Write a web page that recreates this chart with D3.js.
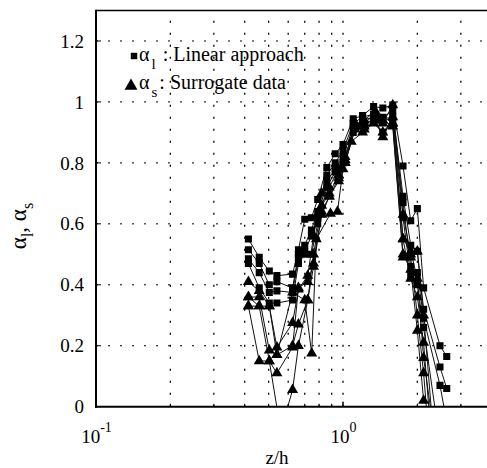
<!DOCTYPE html>
<html>
<head>
<meta charset="utf-8">
<script src="https://cdn.jsdelivr.net/npm/d3@7"></script>
<style>
  body { margin: 0; background: white; }
</style>
</head>
<body>
<svg id="svg" width="487" height="468"></svg>
<script>

// ************************************************************************************************** //
// Data (z/h, alpha)

var linear_1 = [[0.414,0.55],[0.458,0.49],[0.503,0.445],[0.54,0.43],[0.625,0.435],[0.66,0.515],[0.70,0.615],[0.745,0.62],[0.79,0.68],[0.86,0.785],[0.93,0.83],[1.0,0.86],[1.1,0.945],[1.2,0.955],[1.33,0.985],[1.45,0.98],[1.59,0.99],[1.75,0.79],[1.88,0.61],[2.0,0.65],[2.12,0.39],[2.47,0.20],[2.63,0.165]];
var linear_2 = [[0.414,0.515],[0.458,0.47],[0.503,0.40],[0.54,0.41],[0.625,0.39],[0.66,0.50],[0.70,0.53],[0.745,0.58],[0.79,0.64],[0.86,0.76],[0.93,0.80],[1.0,0.84],[1.1,0.93],[1.2,0.95],[1.33,0.96],[1.45,0.95],[1.59,0.97],[1.75,0.69],[1.88,0.53],[2.0,0.51],[2.12,0.32],[2.47,0.13],[2.63,0.06]];
var linear_3 = [[0.414,0.485],[0.458,0.44],[0.503,0.375],[0.54,0.38],[0.625,0.375],[0.66,0.49],[0.70,0.51],[0.745,0.56],[0.79,0.62],[0.86,0.74],[0.93,0.78],[1.0,0.82],[1.1,0.92],[1.2,0.94],[1.33,0.95],[1.45,0.945],[1.59,0.95],[1.75,0.67],[1.88,0.46],[2.0,0.44],[2.12,0.29],[2.47,0.07],[2.63,-0.05]];
var linear_4 = [[0.414,0.47],[0.458,0.39],[0.503,0.34],[0.54,0.34],[0.625,0.35],[0.66,0.47],[0.70,0.50],[0.745,0.50],[0.79,0.60],[0.86,0.72],[0.93,0.77],[1.0,0.80],[1.1,0.90],[1.2,0.93],[1.33,0.94],[1.45,0.90],[1.59,0.94],[1.75,0.62],[1.88,0.43],[2.0,0.40],[2.12,0.26],[2.4,-0.05]];

var surrogate_1 = [[0.414,0.41],[0.458,0.38],[0.503,0.33],[0.54,0.195],[0.625,0.275],[0.66,0.385],[0.72,0.43],[0.76,0.56],[0.82,0.70],[0.88,0.72],[0.96,0.78],[1.02,0.82],[1.12,0.93],[1.22,0.92],[1.35,0.95],[1.45,0.93],[1.59,0.99],[1.75,0.63],[1.88,0.50],[2.0,0.51],[2.12,0.30],[2.3,-0.05]];
var surrogate_2 = [[0.414,0.36],[0.458,0.36],[0.503,0.185],[0.54,0.17],[0.625,0.20],[0.66,0.27],[0.72,0.35],[0.76,0.50],[0.82,0.66],[0.88,0.70],[0.96,0.76],[1.02,0.81],[1.12,0.92],[1.22,0.91],[1.35,0.94],[1.45,0.885],[1.59,0.95],[1.75,0.55],[1.88,0.42],[2.0,0.36],[2.12,0.21],[2.25,-0.05]];
var surrogate_3 = [[0.414,0.33],[0.458,0.15],[0.503,0.15],[0.54,0.11],[0.625,0.195],[0.66,0.39],[0.72,0.41],[0.76,0.47],[0.82,0.64],[0.88,0.69],[0.96,0.75],[1.02,0.80],[1.12,0.91],[1.22,0.93],[1.35,0.96],[1.45,0.94],[1.59,0.92],[1.75,0.49],[1.88,0.49],[2.0,0.30],[2.12,0.11],[2.2,-0.05]];
var surrogate_4 = [[0.414,0.33],[0.458,0.33],[0.503,0.15],[0.56,-0.08],[0.625,0.055],[0.66,0.20],[0.72,0.35],[0.76,0.46],[0.82,0.63],[0.88,0.69],[0.96,0.74],[1.02,0.80],[1.12,0.92],[1.22,0.94],[1.35,0.97],[1.59,0.93],[1.75,0.50],[1.88,0.45],[2.0,0.25],[2.12,0.02]];
var surrogate_5 = [[0.414,0.36],[0.458,0.33],[0.503,0.33],[0.54,0.17],[0.625,0.375],[0.70,0.35],[0.747,0.175],[0.78,0.55],[0.89,0.634],[0.95,0.64],[1.0,0.78],[1.08,0.87],[1.2,0.90],[1.33,0.93],[1.45,0.90],[1.59,0.93],[1.75,0.55],[1.88,0.51],[2.0,0.42],[2.12,0.16],[2.3,-0.05]];

var linear_series = [linear_1, linear_2, linear_3, linear_4];
var surrogate_series = [surrogate_1, surrogate_2, surrogate_3, surrogate_4, surrogate_5];

var y_ticks = [0, 0.2, 0.4, 0.6, 0.8, 1, 1.2];
var y_tick_labels = ['0', '0.2', '0.4', '0.6', '0.8', '1', '1.2'];
var x_grid = [0.2, 0.3, 0.4, 0.5, 0.6, 0.7, 0.8, 0.9, 1, 2, 3, 4];
var x_decades = [0.1, 1];
var x_decade_exps = ['-1', '0'];

var serif = 'Liberation Serif';

// ************************************************************************************************** //
// Setup

var svg = d3.select('#svg');
var plot_left = 96, plot_top = 10.5, plot_bottom = 406.7;
var decade = 247;

var x = d3.scaleLog().domain([0.1, 5]).range([plot_left, plot_left + decade*Math.log10(50)]);
var y = d3.scaleLinear().domain([0, 1.3]).range([plot_bottom, plot_top]);

svg.append('defs').append('clipPath').attr('id', 'clip')
  .append('rect').attr('x', plot_left).attr('y', plot_top).attr('width', x(5) - plot_left).attr('height', plot_bottom - plot_top);

// ****************************************
// Grid

var grid = svg.append('g');
y_ticks.slice(1).forEach(function(v){
  grid.append('line').attr('x1', plot_left).attr('x2', x(5)).attr('y1', y(v)).attr('y2', y(v))
    .style('stroke', 'black').style('stroke-width', 1).style('stroke-dasharray', '2,10');
});
x_grid.forEach(function(v){
  grid.append('line').attr('x1', x(v)).attr('x2', x(v)).attr('y1', plot_bottom).attr('y2', plot_top)
    .style('stroke', 'black').style('stroke-width', 1.3).style('stroke-dasharray', '2,10');
});

// ****************************************
// Series

var plot = svg.append('g').attr('clip-path', 'url(#clip)');
var line = d3.line().x(function(d){ return x(d[0]); }).y(function(d){ return y(d[1]); });

linear_series.concat(surrogate_series).forEach(function(s){
  plot.append('path').attr('d', line(s)).style('fill', 'none').style('stroke', '#111').style('stroke-width', 1);
});

var square = d3.symbol().type(d3.symbolSquare).size(50);
var triangle = d3.symbol().type(d3.symbolTriangle).size(52);

surrogate_series.forEach(function(s){
  plot.selectAll(null).data(s).enter().append('path')
    .attr('d', triangle)
    .attr('transform', function(d){ return 'translate(' + x(d[0]) + ',' + y(d[1]) + ')'; })
    .style('fill', 'black');
});
linear_series.forEach(function(s){
  plot.selectAll(null).data(s).enter().append('path')
    .attr('d', square)
    .attr('transform', function(d){ return 'translate(' + x(d[0]) + ',' + y(d[1]) + ')'; })
    .style('fill', 'black');
});

// ****************************************
// Axes

var axes = svg.append('g').style('stroke', 'black').style('fill', 'none');
axes.append('line').attr('x1', plot_left).attr('x2', 487).attr('y1', plot_top).attr('y2', plot_top).style('stroke-width', 1.5);
axes.append('line').attr('x1', plot_left).attr('x2', plot_left).attr('y1', plot_top - 0.75).attr('y2', plot_bottom + 1).style('stroke-width', 2);
axes.append('line').attr('x1', plot_left - 1).attr('x2', 487).attr('y1', plot_bottom).attr('y2', plot_bottom).style('stroke-width', 2);

y_ticks.forEach(function(v){
  axes.append('line').attr('x1', plot_left).attr('x2', plot_left + 5).attr('y1', y(v)).attr('y2', y(v)).style('stroke-width', 1);
});
x_grid.concat(x_decades).forEach(function(v){
  var len = x_decades.indexOf(v) >= 0 ? 5 : 3;
  axes.append('line').attr('x1', x(v)).attr('x2', x(v)).attr('y1', plot_bottom).attr('y2', plot_bottom - len).style('stroke-width', 1);
});

// ****************************************
// Tick labels

var labels = svg.append('g').attr('font-family', serif).attr('font-size', 19).attr('fill', 'black');

y_ticks.forEach(function(v, i){
  labels.append('text').attr('x', 84).attr('y', y(v)).attr('dy', '0.35em')
    .attr('text-anchor', 'end').text(y_tick_labels[i]);
});

x_decades.forEach(function(v, i){
  var t = labels.append('text').attr('x', x(v) + 0.5).attr('y', 443).attr('text-anchor', 'middle');
  t.append('tspan').text('10');
  t.append('tspan').attr('dy', -11).attr('font-size', 14).text(x_decade_exps[i]);
});

labels.append('text').attr('x', 277).attr('y', 464).attr('text-anchor', 'middle').text('z/h');

var ylab = labels.append('text').attr('transform', 'translate(26,226) rotate(-90)')
  .attr('text-anchor', 'middle').attr('font-size', 23);
ylab.append('tspan').text('α');
ylab.append('tspan').attr('dy', 7).attr('font-size', 16).text('l');
ylab.append('tspan').attr('dy', -7).text(', α');
ylab.append('tspan').attr('dy', 7).attr('font-size', 16).text('s');

// ****************************************
// Legend

var legend = svg.append('g').attr('font-family', serif).attr('font-size', 20);
legend.append('path').attr('d', d3.symbol().type(d3.symbolSquare).size(42))
  .attr('transform', 'translate(134,56)').style('fill', 'black');
var l1 = legend.append('text').attr('x', 139).attr('y', 61);
l1.append('tspan').text('α');
l1.append('tspan').attr('dy', 8).attr('dx', 2).attr('font-size', 15).text('l');
l1.append('tspan').attr('dy', -8).attr('dx', 7).text(': Linear approach');

legend.append('path').attr('d', d3.symbol().type(d3.symbolTriangle).size(72))
  .attr('transform', 'translate(131,86)').style('fill', 'black');
var l2 = legend.append('text').attr('x', 139).attr('y', 89);
l2.append('tspan').text('α');
l2.append('tspan').attr('dy', 8).attr('dx', 2).attr('font-size', 15).text('s');
l2.append('tspan').attr('dy', -8).attr('dx', 2).text(': Surrogate data');

</script>
</body>
</html>
